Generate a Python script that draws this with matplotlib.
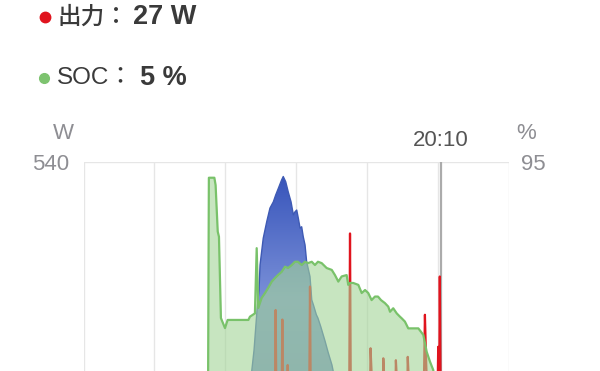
import numpy as np
import matplotlib
matplotlib.use('Agg')
import matplotlib.pyplot as plt
from matplotlib.colors import LinearSegmentedColormap
from matplotlib.patches import PathPatch

# 時刻 (h) と値
soc_t = [7.03, 7.08, 7.39, 7.46, 7.58, 7.65, 7.76, 7.99, 8.14, 9.31, 9.40, 9.68, 9.78, 9.87,
         10.06, 10.25, 10.42, 10.63, 10.81, 10.98, 11.19, 11.38, 11.55, 11.76, 11.94, 12.11,
         12.32, 12.51, 12.68, 12.89, 13.07, 13.24, 13.45, 13.73, 14.02, 14.20, 14.39, 14.58,
         14.86, 14.95, 15.05, 15.23, 15.52, 15.71, 15.90, 16.08, 16.27, 16.46, 16.63, 16.80,
         17.02, 17.21, 17.31, 17.49, 17.69, 17.87, 17.97, 18.15, 18.34, 18.91, 19.19, 19.38,
         19.57, 19.75, 19.96, 20.17]
soc_pct = [5, 89.1, 89.1, 86.4, 69.3, 67.4, 37.5, 33.8, 36.8, 36.8, 38.0, 39.2, 63.2, 41.2,
           44.9, 46.7, 48.5, 50.9, 52.2, 53.3, 54.5, 56.4, 55.9, 57.0, 58.2, 58.2,
           57.0, 58.2, 57.7, 58.2, 57.0, 58.2, 57.7, 55.9, 55.2, 53.3, 50.9, 52.8,
           53.3, 49.7, 50.4, 50.4, 49.7, 46.7, 47.8, 46.7, 44.1, 45.4, 45.4, 44.1,
           43.0, 41.7, 39.8, 41.1, 39.2, 38.0, 37.4, 36.2, 33.7, 33.7, 31.3, 25.1,
           21.4, 18.4, 9.2, 5]

pv_t = [9.23, 9.50, 9.63, 9.80, 9.91, 9.97, 10.15, 10.35, 10.53, 10.72, 10.85, 11.00, 11.19,
        11.28, 11.42, 11.56, 11.72, 11.85, 11.94, 12.04, 12.13, 12.23, 12.32, 12.41, 12.51,
        12.60, 12.79, 12.89, 12.98, 13.15, 13.24, 13.40, 13.64, 13.81, 14.03, 14.26, 14.48, 14.66]
pv_w = [0, 102, 146, 230, 272, 324, 380, 415, 443, 456, 470, 484, 502,
        509, 498, 477, 456, 429, 435, 439, 422, 401, 404, 383, 366,
        331, 300, 251, 241, 220, 213, 195, 165, 142, 115, 73, 31, 0]

out_t = [9.50, 10.80, 10.85, 10.90, 11.18, 11.23, 11.28, 11.48, 11.53, 11.58,
         12.74, 12.79, 12.84, 15.00, 15.05, 15.10, 16.17, 16.21, 16.30, 16.40,
         16.89, 16.93, 17.02, 17.12, 17.60, 17.64, 17.73, 17.83, 18.27, 18.31,
         18.40, 18.50, 19.20, 19.28, 19.35, 19.45, 19.98, 20.03, 20.08, 20.12, 20.17]
out_w = [15, 15, 230, 15, 15, 210, 15, 15, 115, 15,
         15, 279, 15, 15, 390, 15, 15, 150, 70, 15,
         15, 129, 60, 15, 15, 125, 60, 15, 15, 132,
         60, 15, 15, 220, 120, 15, 15, 153, 15, 300, 27]

cursor_label = '20:10'
cursor_t = 20 + 10 / 60
w_max = 540
soc_max = 95

fig = plt.figure(figsize=(6, 3.71), dpi=100)
ax = fig.add_axes([83.5 / 600, 1 - 420 / 371, 425 / 600, (420 - 161.7) / 371])
ax2 = ax.twinx()

ax.set_xlim(0, 24)
ax.set_ylim(0, w_max)
ax2.set_ylim(0, soc_max)
for a in (ax, ax2):
    for s in a.spines.values():
        s.set_visible(False)
    a.set_xticks([])

# グリッド
for t in range(0, 25, 4):
    ax.axvline(t, color='#e6e6e6', lw=1, zorder=0)
ax.axhline(w_max, color='#e6e6e6', lw=1, zorder=0)
ax.axvline(cursor_t, color='#ababab', lw=1.6, zorder=0.5)

# 発電 (青, グラデーション)
poly = ax.fill_between(pv_t, pv_w, color='none', lw=0)
clip = PathPatch(poly.get_paths()[0], transform=ax.transData, facecolor='none', edgecolor='none')
ax.add_patch(clip)
cmap = LinearSegmentedColormap.from_list('pv', ['#3855bb', '#7a90d8', '#6f85c8'])
grad = np.linspace(0, 1, 256).reshape(-1, 1)
im = ax.imshow(grad, cmap=cmap, extent=[pv_t[0], pv_t[-1], 0, max(pv_w)], aspect='auto',
               origin='upper', zorder=1)
im.set_clip_path(clip)
ax.plot(pv_t, pv_w, color='#3e5ab4', lw=1, zorder=2)

# 出力 (赤)
ax.plot(out_t, out_w, color='#e0141e', lw=1.6, zorder=3)

# SOC (緑)
ax2.fill_between(soc_t, soc_pct, color='#a3d596', alpha=0.6, lw=0, zorder=1)
ax2.plot(soc_t, soc_pct, color='#79c26a', lw=1.6, zorder=2)
ax.set_xlim(0, 24)
ax.set_ylim(0, w_max)

# 軸ラベル
gray = '#8e8e93'
ax.set_yticks([w_max])
ax.tick_params(axis='y', left=False, labelsize=16, labelcolor=gray, pad=6.5)
ax.yaxis.get_ticklabels()[0].set_family('Liberation Sans')
ax2.set_yticks([soc_max])
ax2.tick_params(axis='y', right=False, labelsize=16, labelcolor=gray, pad=5.5)
ax2.yaxis.get_ticklabels()[0].set_family('Liberation Sans')
ax.annotate('W', xy=(0, 1), xycoords='axes fraction', xytext=(-9.5, 28), textcoords='offset pixels',
            ha='right', va='center', fontsize=16, color=gray, family='Liberation Sans')
ax.annotate('%', xy=(1, 1), xycoords='axes fraction', xytext=(8, 28), textcoords='offset pixels',
            ha='left', va='center', fontsize=16, color=gray, family='Liberation Sans')
ax.annotate(cursor_label, xy=(cursor_t, w_max), xycoords='data', xytext=(0, 21),
            textcoords='offset pixels', ha='center', va='center', fontsize=16,
            color='#555555', family='Liberation Sans')

# 上部の凡例
lab_font = ['Liberation Sans', 'Noto Sans CJK JP']
fig.add_artist(plt.Line2D([45 / 600], [1 - 16.5 / 371], marker='o', markersize=7.5,
                          color='#e0141e', transform=fig.transFigure))
fig.add_artist(plt.Line2D([44 / 600], [1 - 78 / 371], marker='o', markersize=7,
                          color='#7dc36f', transform=fig.transFigure))
fig.text(57 / 600, 1 - 17 / 371, '出力：', family=['Noto Sans CJK JP'], fontsize=17,
         color='#3a3a3a', va='center', ha='left', fontweight='medium')
fig.text(133 / 600, 1 - 17 / 371, '27 W', family='Liberation Sans', fontsize=19.5,
         fontweight='bold', color='#3a3a3a', va='center', ha='left')
fig.text(57 / 600, 1 - 78 / 371, 'SOC：', family=lab_font, fontsize=17.5, color='#3a3a3a',
         va='center', ha='left')
fig.text(140 / 600, 1 - 78 / 371, '5 %', family='Liberation Sans', fontsize=19.5,
         fontweight='bold', color='#3a3a3a', va='center', ha='left')

fig.savefig('out.png', dpi=100)
